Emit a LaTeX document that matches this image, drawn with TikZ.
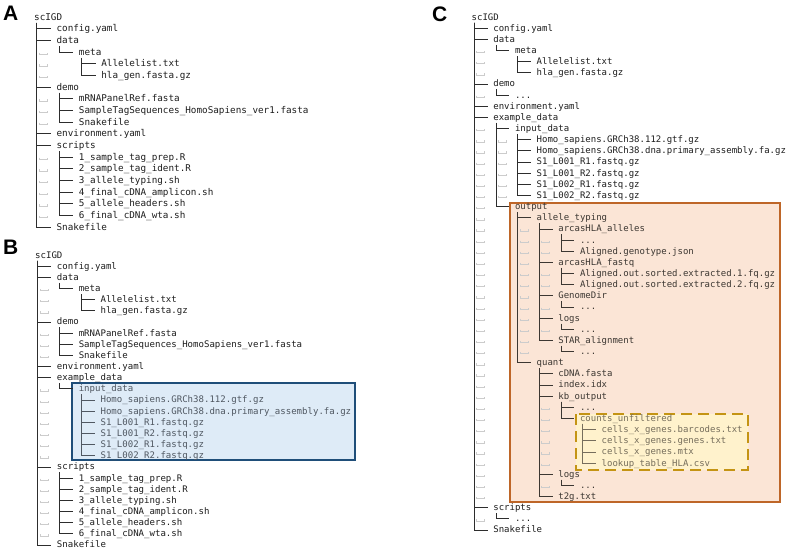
\documentclass[tikz,border=0pt]{standalone}
\usepackage{fontspec}
\newfontfamily\mono{DejaVu Sans Mono}
\newfontfamily\lab{Liberation Sans}
\definecolor{txt}{RGB}{30,30,30}
\definecolor{treec}{RGB}{45,45,45}
\definecolor{blfill}{RGB}{222,235,247}
\definecolor{bldraw}{RGB}{31,78,121}
\definecolor{bltxt}{RGB}{80,88,98}
\definecolor{orfill}{RGB}{251,229,214}
\definecolor{ordraw}{RGB}{190,102,40}
\definecolor{ortxt}{RGB}{60,55,50}
\definecolor{dsfill}{RGB}{255,242,204}
\definecolor{dsdraw}{RGB}{196,148,20}
\definecolor{dstxt}{RGB}{118,110,92}
\newcommand\setpanel[4]{\def\X{#1}\def\Y{#2}\def\fs{#3}\def\ph{#4}%
  \pgfmathsetmacro\cw{0.602*#3}\pgfmathsetmacro\hcw{0.5*\cw}\pgfmathsetmacro\vs{3-#4/2}}
\newcommand\tnode[5][]{\node[tx,#1] (#2) at ({\X+4*#3*\cw},{\Y+#4*\ph+3}) {#5};}
\newcommand\conn[3][]{\draw[tree,#1] ([xshift=\hcw pt,yshift=\vs pt]#2.base west) |- ([xshift=-\cw pt,yshift=3pt]#3.base west);}
\newcommand\gm[2]{\draw[gmk] ({\X+(4*#1+0.9)*\cw},{\Y+#2*\ph+0.6}) -- ++(0,1.5) -- ++({1.5*\cw},0) -- ++(0,-1.5);}
\begin{document}
\begin{tikzpicture}[x=1pt,y=-1pt,
  tx/.style={anchor=base west,inner sep=0pt,font=\mono\fontsize{\fs}{\fs}\selectfont,text=txt},
  blt/.style={text=bltxt}, ort/.style={text=ortxt}, dst/.style={text=dstxt},
  tree/.style={draw=treec,line width=0.7pt},
  blc/.style={draw=bltxt}, orc/.style={draw=ortxt}, dsc/.style={draw=dstxt},
  gmk/.style={draw=black!20,line width=0.45pt},
  lbl/.style={anchor=base west,inner sep=0pt,font=\lab\bfseries\fontsize{21}{21}\selectfont}]
\useasboundingbox (0,0) rectangle (787,550);
\fill[white] (0,0) rectangle (787,550);
% panel labels
\node[lbl] (labA) at (3,20.7) {A};
\node[lbl] (labB) at (3,254) {B};
\node[lbl] (labC) at (432,21) {C};
% highlight boxes
\draw[bldraw,fill=blfill,line width=2pt] (72,383) rectangle (355,460);
\draw[ordraw,fill=orfill,line width=2pt] (510,203) rectangle (780,502);
\draw[dsdraw,fill=dsfill,line width=2.2pt,dash pattern=on 11pt off 6pt] (576,414) rectangle (748,470);
% ---------------- Panel A
\setpanel{34}{17}{9.3}{11.67}
\tnode{a0}{0}{0}{scIGD}
\tnode{a1}{1}{1}{config.yaml}
\tnode{a2}{1}{2}{data}
\tnode{a3}{2}{3}{meta}
\tnode{a4}{3}{4}{Allelelist.txt}
\tnode{a5}{3}{5}{hla\_gen.fasta.gz}
\tnode{a6}{1}{6}{demo}
\tnode{a7}{2}{7}{mRNAPanelRef.fasta}
\tnode{a8}{2}{8}{SampleTagSequences\_HomoSapiens\_ver1.fasta}
\tnode{a9}{2}{9}{Snakefile}
\tnode{a10}{1}{10}{environment.yaml}
\tnode{a11}{1}{11}{scripts}
\tnode{a12}{2}{12}{1\_sample\_tag\_prep.R}
\tnode{a13}{2}{13}{2\_sample\_tag\_ident.R}
\tnode{a14}{2}{14}{3\_allele\_typing.sh}
\tnode{a15}{2}{15}{4\_final\_cDNA\_amplicon.sh}
\tnode{a16}{2}{16}{5\_allele\_headers.sh}
\tnode{a17}{2}{17}{6\_final\_cDNA\_wta.sh}
\tnode{a18}{1}{18}{Snakefile}
\foreach \c in {a1,a2,a6,a10,a11,a18}{\conn{a0}{\c}}
\conn{a2}{a3}
\foreach \c in {a4,a5}{\conn{a3}{\c}}
\foreach \c in {a7,a8,a9}{\conn{a6}{\c}}
\foreach \c in {a12,a13,a14,a15,a16,a17}{\conn{a11}{\c}}
\foreach \r in {3,4,5,7,8,9,12,13,14,15,16,17}{\gm{0}{\r}}
% ---------------- Panel B
\setpanel{35}{255}{9.05}{11.15}
\tnode{b0}{0}{0}{scIGD}
\tnode{b1}{1}{1}{config.yaml}
\tnode{b2}{1}{2}{data}
\tnode{b3}{2}{3}{meta}
\tnode{b4}{3}{4}{Allelelist.txt}
\tnode{b5}{3}{5}{hla\_gen.fasta.gz}
\tnode{b6}{1}{6}{demo}
\tnode{b7}{2}{7}{mRNAPanelRef.fasta}
\tnode{b8}{2}{8}{SampleTagSequences\_HomoSapiens\_ver1.fasta}
\tnode{b9}{2}{9}{Snakefile}
\tnode{b10}{1}{10}{environment.yaml}
\tnode{b11}{1}{11}{example\_data}
\tnode[blt]{b12}{2}{12}{input\_data}
\tnode[blt]{b13}{3}{13}{Homo\_sapiens.GRCh38.112.gtf.gz}
\tnode[blt]{b14}{3}{14}{Homo\_sapiens.GRCh38.dna.primary\_assembly.fa.gz}
\tnode[blt]{b15}{3}{15}{S1\_L001\_R1.fastq.gz}
\tnode[blt]{b16}{3}{16}{S1\_L001\_R2.fastq.gz}
\tnode[blt]{b17}{3}{17}{S1\_L002\_R1.fastq.gz}
\tnode[blt]{b18}{3}{18}{S1\_L002\_R2.fastq.gz}
\tnode{b19}{1}{19}{scripts}
\tnode{b20}{2}{20}{1\_sample\_tag\_prep.R}
\tnode{b21}{2}{21}{2\_sample\_tag\_ident.R}
\tnode{b22}{2}{22}{3\_allele\_typing.sh}
\tnode{b23}{2}{23}{4\_final\_cDNA\_amplicon.sh}
\tnode{b24}{2}{24}{5\_allele\_headers.sh}
\tnode{b25}{2}{25}{6\_final\_cDNA\_wta.sh}
\tnode{b26}{1}{26}{Snakefile}
\foreach \c in {b1,b2,b6,b10,b11,b19,b26}{\conn{b0}{\c}}
\conn{b2}{b3}
\foreach \c in {b4,b5}{\conn{b3}{\c}}
\foreach \c in {b7,b8,b9}{\conn{b6}{\c}}
\conn{b11}{b12}
\foreach \c in {b13,b14,b15,b16,b17,b18}{\conn[blc]{b12}{\c}}
\foreach \c in {b20,b21,b22,b23,b24,b25}{\conn{b19}{\c}}
\foreach \r in {3,4,5,7,8,9,12,13,14,15,16,17,18,20,21,22,23,24,25}{\gm{0}{\r}}
% ---------------- Panel C
\setpanel{471.5}{17}{9.0}{11.15}
\tnode{c0}{0}{0}{scIGD}
\tnode{c1}{1}{1}{config.yaml}
\tnode{c2}{1}{2}{data}
\tnode{c3}{2}{3}{meta}
\tnode{c4}{3}{4}{Allelelist.txt}
\tnode{c5}{3}{5}{hla\_gen.fasta.gz}
\tnode{c6}{1}{6}{demo}
\tnode{c7}{2}{7}{...}
\tnode{c8}{1}{8}{environment.yaml}
\tnode{c9}{1}{9}{example\_data}
\tnode{c10}{2}{10}{input\_data}
\tnode{c11}{3}{11}{Homo\_sapiens.GRCh38.112.gtf.gz}
\tnode{c12}{3}{12}{Homo\_sapiens.GRCh38.dna.primary\_assembly.fa.gz}
\tnode{c13}{3}{13}{S1\_L001\_R1.fastq.gz}
\tnode{c14}{3}{14}{S1\_L001\_R2.fastq.gz}
\tnode{c15}{3}{15}{S1\_L002\_R1.fastq.gz}
\tnode{c16}{3}{16}{S1\_L002\_R2.fastq.gz}
\tnode[ort]{c17}{2}{17}{output}
\tnode[ort]{c18}{3}{18}{allele\_typing}
\tnode[ort]{c19}{4}{19}{arcasHLA\_alleles}
\tnode[ort]{c20}{5}{20}{...}
\tnode[ort]{c21}{5}{21}{Aligned.genotype.json}
\tnode[ort]{c22}{4}{22}{arcasHLA\_fastq}
\tnode[ort]{c23}{5}{23}{Aligned.out.sorted.extracted.1.fq.gz}
\tnode[ort]{c24}{5}{24}{Aligned.out.sorted.extracted.2.fq.gz}
\tnode[ort]{c25}{4}{25}{GenomeDir}
\tnode[ort]{c26}{5}{26}{...}
\tnode[ort]{c27}{4}{27}{logs}
\tnode[ort]{c28}{5}{28}{...}
\tnode[ort]{c29}{4}{29}{STAR\_alignment}
\tnode[ort]{c30}{5}{30}{...}
\tnode[ort]{c31}{3}{31}{quant}
\tnode[ort]{c32}{4}{32}{cDNA.fasta}
\tnode[ort]{c33}{4}{33}{index.idx}
\tnode[ort]{c34}{4}{34}{kb\_output}
\tnode[ort]{c35}{5}{35}{...}
\tnode[dst]{c36}{5}{36}{counts\_unfiltered}
\tnode[dst]{c37}{6}{37}{cells\_x\_genes.barcodes.txt}
\tnode[dst]{c38}{6}{38}{cells\_x\_genes.genes.txt}
\tnode[dst]{c39}{6}{39}{cells\_x\_genes.mtx}
\tnode[dst]{c40}{6}{40}{lookup\_table\_HLA.csv}
\tnode[ort]{c41}{4}{41}{logs}
\tnode[ort]{c42}{5}{42}{...}
\tnode[ort]{c43}{4}{43}{t2g.txt}
\tnode{c44}{1}{44}{scripts}
\tnode{c45}{2}{45}{...}
\tnode{c46}{1}{46}{Snakefile}
\foreach \c in {c1,c2,c6,c8,c9,c44,c46}{\conn{c0}{\c}}
\conn{c2}{c3}
\foreach \c in {c4,c5}{\conn{c3}{\c}}
\conn{c6}{c7}
\foreach \c in {c10,c17}{\conn{c9}{\c}}
\foreach \c in {c11,c12,c13,c14,c15,c16}{\conn{c10}{\c}}
\foreach \c in {c18,c31}{\conn[orc]{c17}{\c}}
\foreach \c in {c19,c22,c25,c27,c29}{\conn[orc]{c18}{\c}}
\foreach \c in {c20,c21}{\conn[orc]{c19}{\c}}
\foreach \c in {c23,c24}{\conn[orc]{c22}{\c}}
\conn[orc]{c25}{c26}
\conn[orc]{c27}{c28}
\conn[orc]{c29}{c30}
\foreach \c in {c32,c33,c34,c41,c43}{\conn[orc]{c31}{\c}}
\foreach \c in {c35,c36}{\conn[orc]{c34}{\c}}
\foreach \c in {c37,c38,c39,c40}{\conn[dsc]{c36}{\c}}
\conn[orc]{c41}{c42}
\conn{c44}{c45}
\foreach \r in {3,4,5,7,10,11,...,43,45}{\gm{0}{\r}}
\foreach \r in {11,...,16}{\gm{1}{\r}}
\foreach \r in {19,...,30}{\gm{2}{\r}}
\foreach \r in {20,21,23,24,26,28,35,36,37,38,39,40,42}{\gm{3}{\r}}
\end{tikzpicture}
\end{document}
